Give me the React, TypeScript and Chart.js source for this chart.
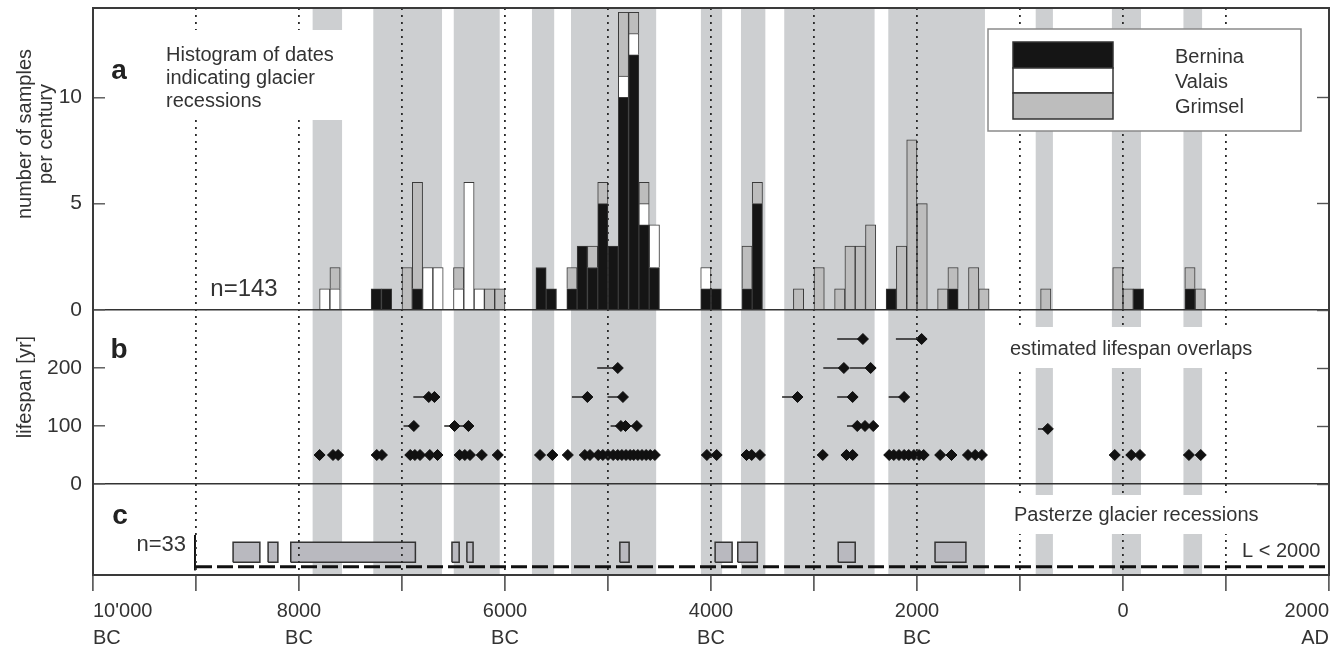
import React, { useEffect, useRef } from 'react';
import { Chart, registerables } from 'chart.js';

Chart.register(...registerables);

const FONT = '"Liberation Sans", Arial, Helvetica, sans-serif';
const TEXT = '#333333';
const BAND_COLOR = '#cdcfd1';
const BOX_FILL = '#b9b9bf';

// ---- Panel a: histogram of dated samples per century (start year of each century) ----
const centuries = [-7800, -7700, -7300, -7200, -7000, -6900, -6800, -6700, -6500, -6400, -6300, -6200, -6100, -5700, -5600, -5400, -5300, -5200, -5100, -5000, -4900, -4800, -4700, -4600, -4100, -4000, -3700, -3600, -3200, -3000, -2800, -2700, -2600, -2500, -2300, -2200, -2100, -2000, -1800, -1700, -1500, -1400, -800, -100, 0, 100, 600, 700];
const bernina = [0, 0, 1, 1, 0, 1, 0, 0, 0, 0, 0, 0, 0, 2, 1, 1, 3, 2, 5, 3, 10, 12, 4, 2, 1, 1, 1, 5, 0, 0, 0, 0, 0, 0, 1, 0, 0, 0, 0, 1, 0, 0, 0, 0, 0, 1, 1, 0];
const valais = [1, 1, 0, 0, 0, 0, 2, 2, 1, 6, 1, 0, 0, 0, 0, 0, 0, 0, 0, 0, 1, 1, 1, 2, 1, 0, 0, 0, 0, 0, 0, 0, 0, 0, 0, 0, 0, 0, 0, 0, 0, 0, 0, 0, 0, 0, 0, 0];
const grimsel = [0, 1, 0, 0, 2, 5, 0, 0, 1, 0, 0, 1, 1, 0, 0, 1, 0, 1, 1, 0, 3, 1, 1, 0, 0, 0, 2, 1, 1, 2, 1, 3, 3, 4, 0, 3, 8, 5, 1, 1, 2, 1, 1, 2, 1, 0, 1, 1];
const seriesNames = ['Bernina', 'Valais', 'Grimsel'];
const seriesColors = ['#151515', '#ffffff', '#bdbdbd'];

// ---- Grey bands: glacier recession periods ----
const bandStart = [-7870, -7280, -6500, -5740, -5360, -4100, -3710, -3290, -2280, -850, -110, 585];
const bandEnd = [-7580, -6610, -6050, -5520, -4530, -3890, -3470, -2410, -1340, -680, 175, 770];

// ---- Panel b: estimated lifespan overlaps (year of diamond, grouped by lifespan) ----
const overlap50 = [-7800, -7670, -7620, -7245, -7195, -6920, -6875, -6825, -6730, -6655, -6440, -6390, -6340, -6225, -6070, -5660, -5540, -5390, -5225, -5175, -5095, -5050, -5000, -4950, -4905, -4865, -4825, -4785, -4750, -4710, -4670, -4630, -4590, -4545, -4040, -3945, -3655, -3605, -3525, -2915, -2685, -2625, -2270, -2225, -2175, -2125, -2080, -2030, -1980, -1935, -1775, -1665, -1505, -1435, -1370, -80, 80, 165, 640, 755];
const overlap95 = [-730];
const overlap100 = [-6885, -6490, -6355, -4875, -4830, -4720, -2580, -2505, -2425];
const overlap150 = [-6740, -6685, -5200, -4855, -3160, -2625, -2125];
const overlap200 = [-4905, -2710, -2450];
const overlap250 = [-2525, -1955];
const lifespanLevels = [50, 95, 100, 150, 200, 250];
const lifespanGroups = [overlap50, overlap95, overlap100, overlap150, overlap200, overlap250];

// ---- Panel c: Pasterze glacier recessions ----
const pasterzeStart = [-8640, -8300, -8080, -6515, -6370, -4885, -3960, -3740, -2765, -1825];
const pasterzeEnd = [-8380, -8205, -6870, -6445, -6310, -4795, -3795, -3550, -2600, -1525];
const limitLineYears = [-9000, 2000];
const markerYear = -9010;

// panel c layout (in panel-c units 0..10)
const BOX_LO = 1.4;
const BOX_HI = 3.6;
const LIMIT_Y = 0.9;
const MARKER_LO = 0.5;
const MARKER_HI = 4.4;

// ---- Axes ----
const xGridYears = [-10000, -9000, -8000, -7000, -6000, -5000, -4000, -3000, -2000, -1000, 0, 1000, 2000];
const xTickYears = [-10000, -8000, -6000, -4000, -2000, 0, 2000];
const xTickLabels: any[] = [["10'000", 'BC'], ['8000', 'BC'], ['6000', 'BC'], ['4000', 'BC'], ['2000', 'BC'], '0', ['2000', 'AD']];
const histTicks = [0, 5, 10];
const lifespanTicks = [0, 100, 200];

function zeroPadding(s: any) {
  s.paddingTop = 0;
  s.paddingBottom = 0;
  s.paddingLeft = 0;
  s.paddingRight = 0;
}

function leftAxis(min: number, max: number, ticksList: number[] | null, stackWeight: number, weight: number) {
  return {
    type: 'linear',
    position: 'left',
    stack: 'left',
    stackWeight,
    weight,
    min,
    max,
    offset: false,
    afterBuildTicks: (s: any) => {
      if (ticksList) s.ticks = ticksList.map((v) => ({ value: v }));
    },
    afterFit: (s: any) => {
      s.width = 93;
      zeroPadding(s);
    },
    ticks: { display: !!ticksList, font: { family: FONT, size: 21 }, color: TEXT, padding: 23 },
    grid: {
      display: !!ticksList,
      z: 1,
      offset: false,
      color: (c: any) => (c.tick && c.tick.value === 0 ? '#333333' : 'rgba(0,0,0,0)'),
      lineWidth: 1.6,
      drawTicks: true,
      tickLength: -12,
      tickColor: '#555555',
      tickWidth: 1.4,
    },
    border: { display: false },
  };
}

function rightAxis(min: number, max: number, ticksList: number[] | null, stackWeight: number, weight: number) {
  return {
    type: 'linear',
    position: 'right',
    stack: 'right',
    stackWeight,
    weight,
    min,
    max,
    offset: false,
    afterBuildTicks: (s: any) => {
      if (ticksList) s.ticks = ticksList.map((v) => ({ value: v }));
    },
    afterFit: (s: any) => {
      s.width = 0;
      zeroPadding(s);
    },
    ticks: { display: false },
    grid: {
      display: !!ticksList,
      z: 1,
      offset: false,
      drawOnChartArea: false,
      drawTicks: true,
      tickLength: -12,
      tickColor: '#555555',
      tickWidth: 1.4,
    },
    border: { display: false },
  };
}

const annotationPlugin = {
  id: 'glacierAnnotations',
  afterDraw(chart: any) {
    const { ctx, chartArea: ca } = chart;
    ctx.save();
    const text = (s: string, x: number, y: number, size: number, align = 'left', bold = false, color = TEXT) => {
      ctx.font = `${bold ? 'bold ' : ''}${size}px ${FONT}`;
      ctx.fillStyle = color;
      ctx.textAlign = align;
      ctx.textBaseline = 'middle';
      ctx.fillText(s, x, y);
    };
    const rotText = (s: string, x: number, y: number, size: number) => {
      ctx.save();
      ctx.translate(x, y);
      ctx.rotate(-Math.PI / 2);
      text(s, 0, 0, size, 'center');
      ctx.restore();
    };
    const white = (x1: number, y1: number, x2: number, y2: number) => {
      ctx.fillStyle = '#ffffff';
      ctx.fillRect(x1, y1, x2 - x1, y2 - y1);
    };

    // white backgrounds behind the labels
    white(160, 30, 346, 120);
    white(1003, 327, 1258, 368);
    white(1008, 495, 1262, 534);

    // panel a
    text('a', 119, 71, 28, 'center', true, '#222');
    text('Histogram of dates', 166, 55, 20);
    text('indicating glacier', 166, 78, 20);
    text('recessions', 166, 101, 20);
    text('n=143', 244, 289, 24, 'center');

    // legend
    white(988, 29, 1301, 131);
    ctx.strokeStyle = '#8a8a8a';
    ctx.lineWidth = 1.5;
    ctx.strokeRect(988, 29, 313, 102);
    const stripeTop = [42, 68, 93];
    const stripeH = [26, 25, 26];
    const labelY = [57, 82, 107];
    for (let i = 0; i < 3; i++) {
      ctx.fillStyle = seriesColors[i];
      ctx.fillRect(1013, stripeTop[i], 100, stripeH[i]);
      ctx.strokeStyle = '#333';
      ctx.lineWidth = 1.5;
      ctx.strokeRect(1013, stripeTop[i], 100, stripeH[i]);
      text(seriesNames[i], 1175, labelY[i], 20);
    }

    // panel b
    text('b', 119, 350, 28, 'center', true, '#222');
    text('estimated lifespan overlaps', 1010, 349, 20);

    // panel c
    text('c', 120, 516, 28, 'center', true, '#222');
    text('n=33', 186, 545, 22, 'right');
    text('Pasterze glacier recessions', 1014, 515, 20);
    text('L < 2000', 1242, 551, 20);

    // axis titles
    rotText('number of samples', 25, 134, 20);
    rotText('per century', 46, 134, 20);
    rotText('lifespan [yr]', 25, 387, 20);

    // frame
    ctx.strokeStyle = '#3a3a3a';
    ctx.lineWidth = 2;
    ctx.strokeRect(ca.left, ca.top, ca.right - ca.left, ca.bottom - ca.top);
    ctx.restore();
  },
};

export default function App() {
  const ref = useRef<HTMLCanvasElement>(null);

  useEffect(() => {
    const histDataset = (i: number, values: number[]) => ({
      type: 'bar',
      label: seriesNames[i],
      xAxisID: 'x',
      yAxisID: 'ya',
      stack: 'hist',
      data: centuries.map((c, k) => ({ x: c + 50, y: values[k] ? values[k] : null })),
      backgroundColor: seriesColors[i],
      borderColor: '#3a3a3a',
      borderWidth: 1,
      barPercentage: 1,
      categoryPercentage: 1,
      order: 5,
    });

    const points: any[] = [];
    lifespanGroups.forEach((years, g) => {
      years.forEach((yr) => points.push({ x: yr, y: lifespanLevels[g] }));
    });
    const segments: any[] = [];
    points.forEach((p) => {
      segments.push({ x: p.x - p.y, y: p.y }, { x: p.x, y: p.y }, { x: p.x, y: null });
    });

    const bandData: any[] = [];
    bandStart.forEach((s, i) => {
      bandData.push({ x: s, y: 1 }, { x: bandEnd[i], y: 1 }, { x: bandEnd[i], y: null });
    });

    const boxFillData: any[] = [];
    const boxOutlineData: any[] = [];
    pasterzeStart.forEach((s, i) => {
      const e = pasterzeEnd[i];
      boxFillData.push({ x: s, y: BOX_HI }, { x: e, y: BOX_HI }, { x: e, y: null });
      boxOutlineData.push(
        { x: s, y: BOX_LO }, { x: e, y: BOX_LO }, { x: e, y: BOX_HI }, { x: s, y: BOX_HI }, { x: s, y: BOX_LO }, { x: s, y: null }
      );
    });

    const config: any = {
      type: 'scatter',
      data: {
        datasets: [
          {
            type: 'line',
            label: 'recession periods',
            xAxisID: 'x',
            yAxisID: 'yFull',
            data: bandData,
            borderColor: 'rgba(0,0,0,0)',
            borderWidth: 0,
            backgroundColor: BAND_COLOR,
            fill: 'start',
            pointRadius: 0,
            spanGaps: false,
            order: 10,
          },
          histDataset(0, bernina),
          histDataset(1, valais),
          histDataset(2, grimsel),
          {
            type: 'line',
            label: 'Pasterze',
            xAxisID: 'x',
            yAxisID: 'yc',
            data: boxFillData,
            borderColor: 'rgba(0,0,0,0)',
            borderWidth: 0,
            backgroundColor: BOX_FILL,
            fill: { value: BOX_LO },
            pointRadius: 0,
            spanGaps: false,
            order: 6,
          },
          {
            type: 'line',
            label: 'Pasterze outline',
            xAxisID: 'x',
            yAxisID: 'yc',
            data: boxOutlineData,
            borderColor: '#333333',
            borderWidth: 1.5,
            fill: false,
            pointRadius: 0,
            spanGaps: false,
            order: 5,
          },
          {
            type: 'line',
            label: 'L < 2000',
            xAxisID: 'x',
            yAxisID: 'yc',
            data: limitLineYears.map((yr) => ({ x: yr, y: LIMIT_Y })),
            borderColor: '#111111',
            borderWidth: 3,
            borderDash: [16, 5],
            pointRadius: 0,
            fill: false,
            order: 4,
          },
          {
            type: 'line',
            label: 'n=33 marker',
            xAxisID: 'x',
            yAxisID: 'yc',
            data: [{ x: markerYear, y: MARKER_LO }, { x: markerYear, y: MARKER_HI }],
            borderColor: '#111111',
            borderWidth: 2,
            pointRadius: 0,
            fill: false,
            order: 4,
          },
          {
            type: 'line',
            label: 'lifespan',
            xAxisID: 'x',
            yAxisID: 'yb',
            data: segments,
            borderColor: '#222222',
            borderWidth: 1.5,
            pointRadius: 0,
            fill: false,
            spanGaps: false,
            order: 3,
          },
          {
            type: 'scatter',
            label: 'overlaps',
            xAxisID: 'x',
            yAxisID: 'yb',
            data: points,
            pointStyle: 'rectRot',
            pointRadius: 5.5,
            backgroundColor: '#111111',
            borderColor: '#111111',
            borderWidth: 1,
            order: 2,
          },
        ],
      },
      options: {
        animation: false,
        responsive: false,
        devicePixelRatio: 1,
        events: [],
        layout: { autoPadding: false, padding: { top: 8, right: 1, bottom: 0, left: 0 } },
        plugins: { legend: { display: false }, tooltip: { enabled: false } },
        scales: {
          x: {
            type: 'linear',
            position: 'bottom',
            min: -10000,
            max: 2000,
            offset: false,
            afterBuildTicks: (s: any) => {
              s.ticks = xGridYears.map((v) => ({ value: v }));
            },
            afterFit: (s: any) => {
              s.height = 81;
              s.paddingLeft = 0;
              s.paddingRight = 0;
            },
            ticks: {
              autoSkip: false,
              maxRotation: 0,
              minRotation: 0,
              align: 'inner',
              padding: 6.5,
              color: TEXT,
              font: { family: FONT, size: 20, lineHeight: '27px' },
              callback: (v: number) => {
                const i = xTickYears.indexOf(v);
                return i >= 0 ? xTickLabels[i] : '';
              },
            },
            grid: {
              z: 1,
              offset: false,
              color: (c: any) => (c.tick && (c.tick.value === -10000 || c.tick.value === 2000) ? 'rgba(0,0,0,0)' : '#2a2a2a'),
              lineWidth: 1.8,
              drawTicks: true,
              tickLength: 16,
              tickColor: '#444444',
              tickWidth: 1.5,
              tickBorderDash: [],
            },
            border: { display: false, dash: [2, 5] },
          },
          yFull: { type: 'linear', position: 'left', display: false, min: 0, max: 1, offset: false },
          ya: leftAxis(0, 14.2, histTicks, 302, 3),
          yb: leftAxis(0, 300, lifespanTicks, 174, 2),
          yc: leftAxis(0, 10, null, 91, 1),
          yaR: rightAxis(0, 14.2, histTicks, 302, 1),
          ybR: rightAxis(0, 300, lifespanTicks, 174, 2),
          ycR: rightAxis(0, 10, null, 91, 3),
        },
      },
      plugins: [annotationPlugin],
    };

    const chart = new Chart(ref.current as HTMLCanvasElement, config);
    return () => chart.destroy();
  }, []);

  return (
    <div style={{ position: 'absolute', left: 0, top: 0, width: 1330, height: 656, background: '#ffffff' }}>
      <canvas ref={ref} width={1330} height={656} style={{ display: 'block', width: 1330, height: 656 }} />
    </div>
  );
}
